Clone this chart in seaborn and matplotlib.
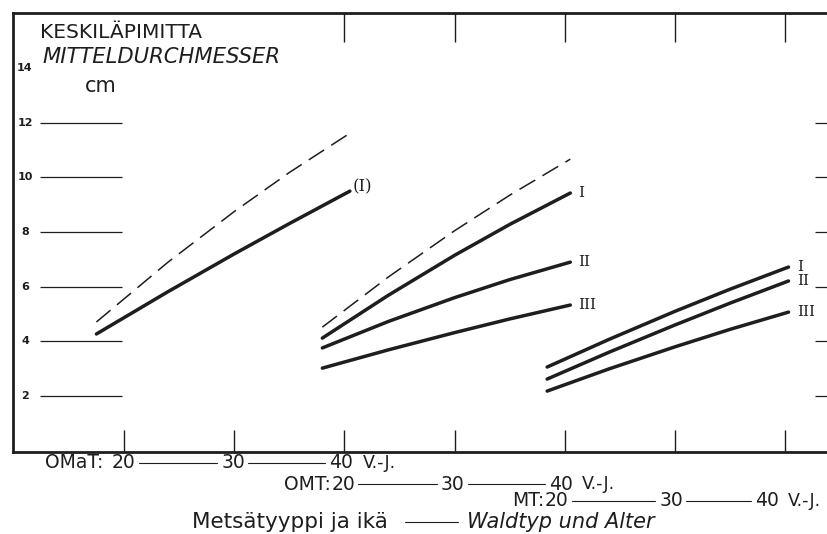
import numpy as np
import pandas as pd
import matplotlib
matplotlib.use("Agg")
import matplotlib.pyplot as plt
import matplotlib.transforms as mtransforms
import seaborn as sns

# ---- data -------------------------------------------------------------
# Forest site types along the age axis; each one's 20-year mark sits
# this many 10-year steps from the first one.
site_types = ["OMaT", "OMT", "MT"]
site_offsets = [0, 2, 4]
age_marks = [20, 30, 40]
age_unit = "V.-J."

# Stand age (years) and mean diameter (cm)
omat_age = [17.5, 24, 30, 35, 40.5]
omat_dashed = [4.71, 6.9, 8.75, 10.18, 11.62]
omat_I = [4.27, 5.82, 7.2, 8.31, 9.5]

omt_age = [18.0, 24, 30, 35, 40.5]
omt_dashed = [4.52, 6.36, 8.05, 9.35, 10.67]
omt_I = [4.12, 5.69, 7.15, 8.28, 9.43]
omt_II = [3.76, 4.73, 5.6, 6.26, 6.9]
omt_III = [3.02, 3.69, 4.32, 4.82, 5.33]

mt_age = [18.4, 24, 30, 35, 40.3]
mt_I = [3.06, 4.07, 5.1, 5.91, 6.72]
mt_II = [2.62, 3.6, 4.6, 5.4, 6.21]
mt_III = [2.18, 2.99, 3.8, 4.44, 5.07]

ytick_vals = [2, 4, 6, 8, 10, 12]
ytop_label = 14

# (site, class label, kind, ages, diameters)
curves = [
    ("OMaT", "", "dashed", omat_age, omat_dashed),
    ("OMaT", "(I)", "solid", omat_age, omat_I),
    ("OMT", "", "dashed", omt_age, omt_dashed),
    ("OMT", "I", "solid", omt_age, omt_I),
    ("OMT", "II", "solid", omt_age, omt_II),
    ("OMT", "III", "solid", omt_age, omt_III),
    ("MT", "I", "solid", mt_age, mt_I),
    ("MT", "II", "solid", mt_age, mt_II),
    ("MT", "III", "solid", mt_age, mt_III),
]

rows = []
for k, (site, cls, kind, ages, diams) in enumerate(curves):
    off = site_offsets[site_types.index(site)]
    for a, d in zip(ages, diams):
        rows.append({"curve": k, "site": site, "cls": cls, "kind": kind,
                     "age": a, "diam": d, "pos": (a - 20) / 10 + off})
df = pd.DataFrame(rows)

# ---- figure -----------------------------------------------------------
sns.set_style("white")
plt.rcParams["font.family"] = ["DejaVu Sans"]
INK = "#1e1e1e"

W, H = 828, 534
fig = plt.figure(figsize=(W / 100, H / 100), dpi=100)
ax = fig.add_axes([13 / W, 82 / H, 837 / W, 439 / H])

sns.lineplot(data=df, x="pos", y="diam", units="curve", estimator=None,
             style="kind", dashes={"solid": "", "dashed": (12, 5.5)},
             size="kind", sizes={"solid": 2.5, "dashed": 1.1},
             color=INK, legend=False, sort=False, ax=ax)
for ln in ax.get_lines():
    ln.set_solid_capstyle("round")

ax.set_xlim(-1.007, 6.588)
ax.set_ylim(-0.05, 16.02)
ax.set_xlabel("")
ax.set_ylabel("")
ax.set_yticks([])
ax.set_xticks(range(7))
ax.set_xticklabels([])
ax.tick_params(axis="x", direction="in", length=16, width=1.0, color=INK,
               bottom=True, top=False)

for s in ["left", "top", "bottom"]:
    ax.spines[s].set_linewidth(2.0)
    ax.spines[s].set_color(INK)
ax.spines["right"].set_visible(False)

# ticks hanging from the top frame
tr_xdata = mtransforms.blended_transform_factory(ax.transData, ax.transAxes)
ax.vlines(range(2, 7), 0.934, 1.0, transform=tr_xdata, color=INK, lw=1.0)

# diameter scale: short rules with numbers inside the frame
tr_ydata = mtransforms.blended_transform_factory(ax.transAxes, ax.transData)
ax.hlines(ytick_vals, 0.0323, 0.130, transform=tr_ydata, color=INK, lw=0.9)
ax.hlines(ytick_vals, 0.958, 1.0, transform=tr_ydata, color=INK, lw=0.9)
for v in ytick_vals + [ytop_label]:
    ax.text(0.0143, v, str(v), transform=tr_ydata, ha="center", va="center",
            fontsize=8, fontweight="bold", color=INK)

# curve labels at the old end of each line
for (site, cls, kind, ages, diams) in curves:
    if not cls:
        continue
    off = site_offsets[site_types.index(site)]
    x_end = (ages[-1] - 20) / 10 + off
    paren = cls.startswith("(")
    dx, dy = (2, 3) if paren else (6, 0)
    ax.annotate(cls, (x_end, diams[-1]), xytext=(dx, dy),
                textcoords="offset points", ha="left", va="center",
                fontsize=12 if paren else 11, family="DejaVu Serif",
                color=INK)

# titles
fig.text(40 / W, 1 - 32 / H, "KESKILÄPIMITTA", ha="left", va="center",
         fontsize=14.5, color=INK)
fig.text(42 / W, 1 - 57 / H, "MITTELDURCHMESSER", ha="left", va="center",
         fontsize=15.2, style="italic", color=INK)
fig.text(85 / W, 1 - 86 / H, "cm", ha="left", va="center",
         fontsize=15, color=INK)

# age scales for each site type below the frame
px = 1 / 110.2                       # data units per pixel along x
row_y = [463, 484, 501]              # pixel rows of the three scales
nudges = [[0, -1, -3], [-1, -2, -4], [-8, -4, -18]]
prefix_gap = [15, 13, 12]
tr_row = mtransforms.blended_transform_factory(ax.transData, fig.transFigure)
for i, site in enumerate(site_types):
    yf = 1 - row_y[i] / H
    centers = [site_offsets[i] + j + nudges[i][j] * px
               for j in range(len(age_marks))]
    for c, a in zip(centers, age_marks):
        fig.text(c, yf, str(a), transform=tr_row, ha="center", va="center",
                 fontsize=13.5, color=INK)
    sep = " " if site == "OMaT" else ""
    fig.text(centers[0] - prefix_gap[i] * px, yf, site + ":" + sep,
             transform=tr_row, ha="right", va="center", fontsize=13.5,
             color=INK)
    fig.text(centers[-1] + 21 * px, yf, age_unit, transform=tr_row,
             ha="left", va="center", fontsize=12.5, color=INK)
    for c0, c1 in zip(centers[:-1], centers[1:]):
        fig.add_artist(plt.Line2D([c0 + 15 * px, c1 - 16 * px], [yf, yf],
                                  transform=tr_row, color=INK, lw=0.8))

# axis caption
yc = 1 - 522 / H
fig.text(192 / W, yc, "Metsätyyppi ja ikä", ha="left", va="center",
         fontsize=15.5, color=INK)
fig.add_artist(plt.Line2D([405 / W, 458 / W], [yc, yc],
                          transform=fig.transFigure, color=INK, lw=0.8))
fig.text(467 / W, yc, "Waldtyp und Alter", ha="left", va="center",
         fontsize=15, style="italic", color=INK)

fig.savefig("out.png", dpi=100, facecolor="white")
